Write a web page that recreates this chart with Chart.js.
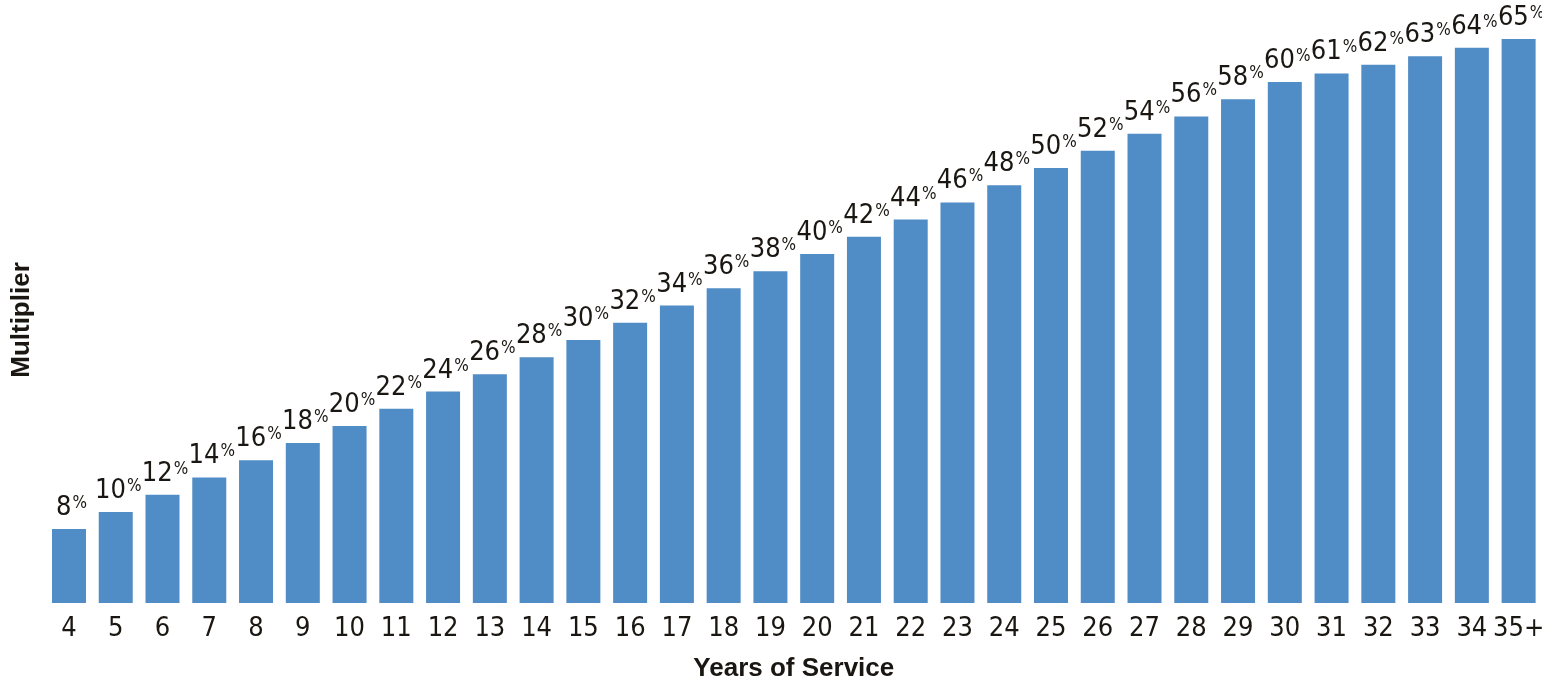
<!DOCTYPE html>
<html>
<head>
<meta charset="utf-8">
<script src="https://cdn.jsdelivr.net/npm/chart.js@4"></script>
<style>
html,body{margin:0;padding:0;background:#fff;}
#wrap{width:1542px;height:685px;position:relative;}
</style>
</head>
<body>
<div id="wrap"><canvas id="c"></canvas></div>
<script>
const categories = ["4","5","6","7","8","9","10","11","12","13","14","15","16","17","18","19","20","21","22","23","24","25","26","27","28","29","30","31","32","33","34","35+"];
const multiplierValues = [8,10,12,14,16,18,20,22,24,26,28,30,32,34,36,38,40,42,44,46,48,50,52,54,56,58,60,61,62,63,64,65];
const xAxisTitle = "Years of Service";
const yAxisTitle = "Multiplier";

const FONT = "'Liberation Sans Narrow', 'DejaVu Sans Condensed', sans-serif";
const TITLE_FONT = "'Liberation Sans', sans-serif";
const TEXT_COLOR = "#1a1612";

const labelPlugin = {
  id: 'pctLabels',
  afterDatasetsDraw(chart) {
    const ctx = chart.ctx;
    const meta = chart.getDatasetMeta(0);
    ctx.save();
    ctx.fillStyle = TEXT_COLOR;
    meta.data.forEach((bar, i) => {
      const num = String(multiplierValues[i]);
      ctx.font = "27px " + FONT;
      const wNum = ctx.measureText(num).width;
      ctx.font = "17px " + FONT;
      const wPct = ctx.measureText("%").width;
      const total = wNum + wPct;
      const x0 = bar.x - total / 2 + 2;
      const base = bar.y - 14;
      ctx.textAlign = 'left';
      ctx.textBaseline = 'alphabetic';
      ctx.font = "27px " + FONT;
      ctx.fillText(num, x0, base);
      ctx.font = "17px " + FONT;
      ctx.fillText("%", x0 + wNum + 1, base - 7);
    });
    ctx.restore();
  }
};

new Chart(document.getElementById('c'), {
  type: 'bar',
  data: {
    labels: categories,
    datasets: [{
      data: multiplierValues,
      base: -0.6,
      backgroundColor: '#508cc5',
      borderWidth: 0,
      categoryPercentage: 1,
      barPercentage: 0.727
    }]
  },
  options: {
    responsive: true,
    maintainAspectRatio: false,
    animation: false,
    devicePixelRatio: 1,
    layout: { padding: { top: 37, right: 0, left: 0, bottom: 0 } },
    plugins: { legend: { display: false }, tooltip: { enabled: false } },
    scales: {
      x: {
        grid: { display: false, drawTicks: false },
        border: { display: false },
        ticks: { color: TEXT_COLOR, font: { family: FONT, size: 27 }, padding: 10, maxRotation: 0, autoSkip: false },
        title: { display: true, text: xAxisTitle, color: TEXT_COLOR, font: { family: TITLE_FONT, size: 26, weight: 'bold' }, padding: { top: 0, bottom: 1 } },
        afterFit(scale) { scale.height = 82; scale.paddingLeft = 0; scale.paddingRight = 0; }
      },
      y: {
        min: -0.6,
        max: 65.24,
        grid: { display: false, drawTicks: false },
        border: { display: false },
        ticks: { display: false },
        title: { display: true, text: yAxisTitle, color: TEXT_COLOR, font: { family: TITLE_FONT, size: 26, weight: 'bold' }, padding: { top: 6, bottom: 0 } },
        afterFit(scale) { scale.width = 45.6; scale.paddingTop = 0; scale.paddingBottom = 0; }
      }
    }
  },
  plugins: [labelPlugin]
});
</script>
</body>
</html>
